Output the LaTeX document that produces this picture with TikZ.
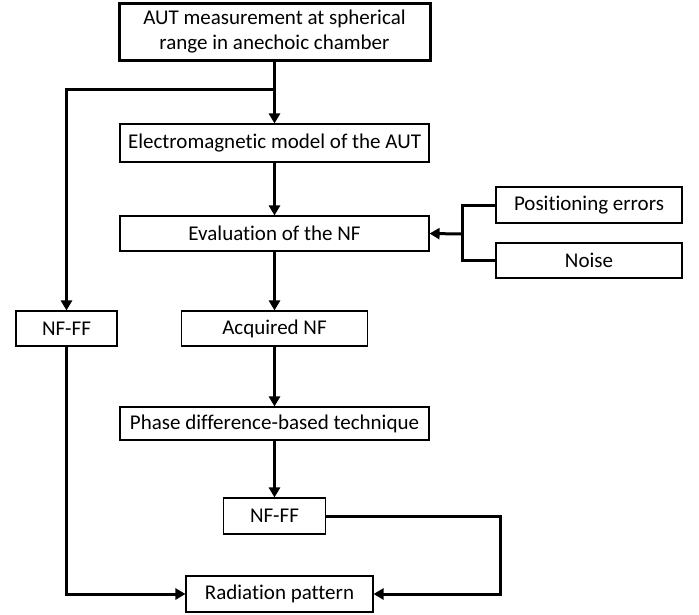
\documentclass[tikz,border=0pt]{standalone}
\usepackage{fontspec}
\setmainfont{Carlito}[Ligatures=NoCommon]
\usetikzlibrary{arrows.meta}
\begin{document}
\begin{tikzpicture}[x=1pt,y=-1pt,
  box/.style={draw,line width=1.1pt,inner sep=0pt,align=center,font=\fontsize{21}{25}\selectfont},
  arr/.style={line width=3pt,-{Triangle[length=10pt,width=11pt]}},
  conn/.style={line width=3pt}]
\useasboundingbox (0,0) rectangle (699,614);
\node[box,line width=3pt,minimum width=311pt,minimum height=57pt] (top) at (274.5,31.5) {AUT measurement at spherical\\range in anechoic chamber};
\node[box,minimum width=309pt,minimum height=38pt] (em) at (274.5,143) {Electromagnetic model of the AUT};
\node[box,minimum width=309pt,minimum height=35pt] (ev) at (274.5,233.5) {Evaluation of the NF};
\node[box,minimum width=186pt,minimum height=36pt] (pos) at (589,205) {Positioning errors};
\node[box,minimum width=186pt,minimum height=35pt] (noise) at (589,260.5) {Noise};
\node[box,minimum width=101pt,minimum height=35pt] (nfl) at (66.5,328.5) {NF-FF};
\node[box,minimum width=186pt,minimum height=35pt] (acq) at (274.5,328.5) {Acquired NF};
\node[box,minimum width=309pt,minimum height=33pt] (ph) at (274.5,423.5) {Phase difference-based technique};
\node[box,minimum width=102pt,minimum height=36pt] (nf2) at (274.5,516) {NF-FF};
\node[box,minimum width=187pt,minimum height=36pt] (rad) at (279.5,594) {Radiation pattern};
\coordinate (j) at (274.5,89);
\coordinate (bx) at (462,234);
\coordinate (rx) at (500,516);
\draw[arr] (top.south) -- (em.north);
\draw[arr] (j) -| (nfl.north);
\draw[arr] (em.south) -- (ev.north);
\draw[conn] (pos.west) -| (bx) |- (noise.west);
\draw[arr] (bx) -- (ev.east);
\draw[arr] (ev.south) -- (acq.north);
\draw[arr] (acq.south) -- (ph.north);
\draw[arr] (ph.south) -- (nf2.north);
\draw[arr] (nfl.south) |- (rad.west);
\draw[arr] (nf2.east) -- (rx) |- (rad.east);
\end{tikzpicture}
\end{document}
